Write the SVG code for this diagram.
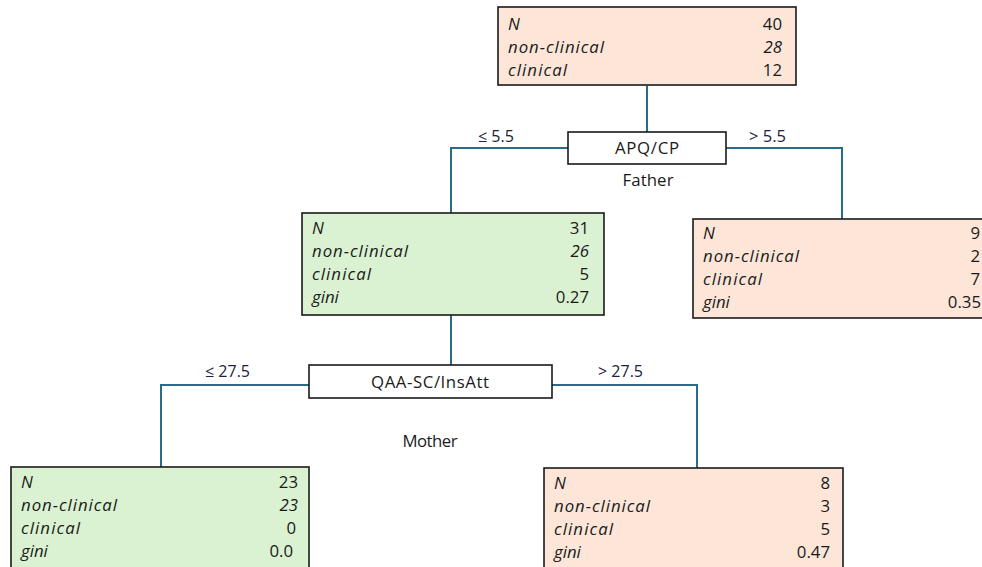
<svg xmlns="http://www.w3.org/2000/svg" width="982" height="567" viewBox="0 0 982 567">
<style>
.bg{fill:#ffffff}
.leaf{stroke:#1a1a1a;stroke-width:1.6}
.peach{fill:#fde6d8}
.green{fill:#dbf2d2}
.split{fill:#ffffff;stroke:#1a1a1a;stroke-width:1.6}
.t{font-family:"Open Sans","Liberation Sans",sans-serif;font-size:16.8px;fill:#1a1a1a}
.k{font-style:italic}
.r{text-anchor:end}
.c{text-anchor:middle}
.e{font-family:"Open Sans","Liberation Sans",sans-serif;font-size:16px;fill:#1b2240}
.conn{fill:none;stroke:#2a6b8a;stroke-width:2}
</style>
<rect class="bg" x="0" y="0" width="982" height="567"/>
<g id="connectors">
<path class="conn" d="M647,86 V132"/>
<path class="conn" d="M568,148 H451 V213"/>
<path class="conn" d="M726,148 H842 V219"/>
<path class="conn" d="M451,315 V365"/>
<path class="conn" d="M309,385 H161 V467"/>
<path class="conn" d="M552,385 H697 V468"/>
<text class="e" x="478" y="142" textLength="36" lengthAdjust="spacingAndGlyphs">≤ 5.5</text>
<text class="e" x="749" y="142" textLength="37" lengthAdjust="spacingAndGlyphs">&gt; 5.5</text>
<text class="e" x="205" y="377" textLength="45" lengthAdjust="spacingAndGlyphs">≤ 27.5</text>
<text class="e" x="598" y="377" textLength="45" lengthAdjust="spacingAndGlyphs">&gt; 27.5</text>
</g>
<g id="root">
<rect class="leaf peach" x="498" y="7" width="298" height="78"/>
<text class="t k" x="508" y="30">N</text>
<text class="t k" x="508" y="53" textLength="96" lengthAdjust="spacing">non-clinical</text>
<text class="t k" x="508" y="76" textLength="59" lengthAdjust="spacing">clinical</text>
<text class="t r" x="782" y="30">40</text>
<text class="t k r" x="782" y="53">28</text>
<text class="t r" x="782" y="76">12</text>
</g>
<g id="split-father">
<rect class="split" x="568" y="132" width="158" height="32"/>
<text class="t c" x="647" y="154" textLength="64" lengthAdjust="spacing">APQ/CP</text>
<text class="t c" x="648" y="186" textLength="51" lengthAdjust="spacing">Father</text>
</g>
<g id="node-left1">
<rect class="leaf green" x="302" y="213" width="302" height="102"/>
<text class="t k" x="312" y="234">N</text>
<text class="t k" x="312" y="257" textLength="96" lengthAdjust="spacing">non-clinical</text>
<text class="t k" x="312" y="280" textLength="59" lengthAdjust="spacing">clinical</text>
<text class="t k" x="312" y="303">gini</text>
<text class="t r" x="589" y="234">31</text>
<text class="t k r" x="589" y="257">26</text>
<text class="t r" x="589" y="280">5</text>
<text class="t r" x="589" y="303">0.27</text>
</g>
<g id="node-right1">
<rect class="leaf peach" x="693" y="219" width="300" height="99"/>
<text class="t k" x="703" y="239">N</text>
<text class="t k" x="703" y="262" textLength="96" lengthAdjust="spacing">non-clinical</text>
<text class="t k" x="703" y="285" textLength="59" lengthAdjust="spacing">clinical</text>
<text class="t k" x="703" y="308">gini</text>
<text class="t r" x="980" y="239">9</text>
<text class="t r" x="980" y="262">2</text>
<text class="t r" x="980" y="285">7</text>
<text class="t r" x="981" y="308">0.35</text>
</g>
<g id="split-mother">
<rect class="split" x="309" y="365" width="243" height="33"/>
<text class="t c" x="430" y="388" textLength="118" lengthAdjust="spacing">QAA-SC/InsAtt</text>
<text class="t c" x="430" y="447" textLength="55" lengthAdjust="spacing">Mother</text>
</g>
<g id="node-left2">
<rect class="leaf green" x="11" y="467" width="298" height="110"/>
<text class="t k" x="21" y="488">N</text>
<text class="t k" x="21" y="511" textLength="96" lengthAdjust="spacing">non-clinical</text>
<text class="t k" x="21" y="534" textLength="59" lengthAdjust="spacing">clinical</text>
<text class="t k" x="21" y="557">gini</text>
<text class="t r" x="298" y="488">23</text>
<text class="t k r" x="298" y="511">23</text>
<text class="t r" x="296" y="534">0</text>
<text class="t r" x="293" y="557">0.0</text>
</g>
<g id="node-right2">
<rect class="leaf peach" x="544" y="468" width="299" height="110"/>
<text class="t k" x="554" y="489">N</text>
<text class="t k" x="554" y="512" textLength="96" lengthAdjust="spacing">non-clinical</text>
<text class="t k" x="554" y="535" textLength="59" lengthAdjust="spacing">clinical</text>
<text class="t k" x="554" y="558">gini</text>
<text class="t r" x="830" y="489">8</text>
<text class="t r" x="830" y="512">3</text>
<text class="t r" x="830" y="535">5</text>
<text class="t r" x="830" y="558">0.47</text>
</g>
</svg>
